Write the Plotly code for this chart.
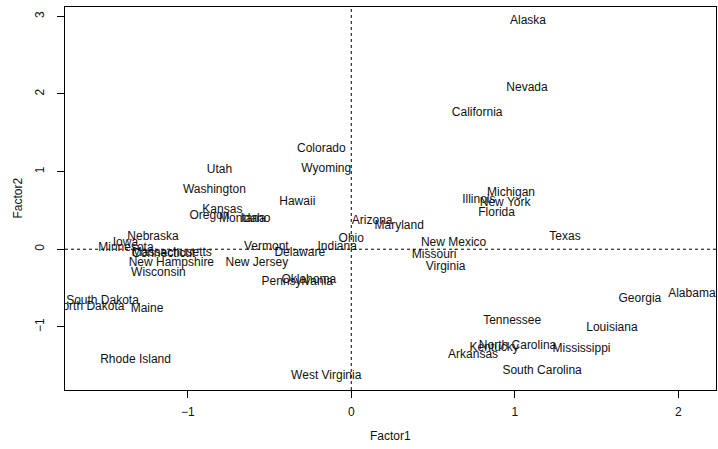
import plotly.graph_objects as go

# Factor scores per state (Factor1, Factor2)
states = [
    "Alaska", "Nevada", "California", "Colorado", "Wyoming", "Utah", "Washington",
    "Hawaii", "Kansas", "Oregon", "Montana", "Idaho", "Arizona", "Maryland",
    "Illinois", "Michigan", "New York", "Florida", "Texas", "New Mexico",
    "Missouri", "Virginia", "Georgia", "Alabama", "Tennessee", "Louisiana",
    "North Carolina", "Kentucky", "Mississippi", "Arkansas", "South Carolina",
    "Nebraska", "Iowa", "Minnesota", "Massachusetts", "Connecticut",
    "New Hampshire", "Wisconsin", "Vermont", "Delaware", "Indiana", "Ohio",
    "New Jersey", "Pennsylvania", "Oklahoma", "South Dakota", "North Dakota",
    "Maine", "Rhode Island", "West Virginia",
]
factor1 = [
    1.081, 1.075, 0.770, -0.183, -0.153, -0.806, -0.837,
    -0.330, -0.788, -0.867, -0.666, -0.586, 0.128, 0.293,
    0.780, 0.977, 0.941, 0.889, 1.307, 0.626,
    0.507, 0.577, 1.765, 2.083, 0.984, 1.594,
    1.017, 0.874, 1.408, 0.745, 1.167,
    -1.212, -1.381, -1.378, -1.097, -1.148,
    -1.100, -1.179, -0.519, -0.315, -0.086, 0.000,
    -0.577, -0.330, -0.260, -1.521, -1.603,
    -1.249, -1.319, -0.153,
]
factor2 = [
    2.938, 2.076, 1.754, 1.290, 1.033, 1.020, 0.763,
    0.609, 0.506, 0.429, 0.390, 0.390, 0.364, 0.299,
    0.634, 0.724, 0.596, 0.467, 0.158, 0.081,
    -0.073, -0.228, -0.640, -0.575, -0.925, -1.015,
    -1.245, -1.270, -1.283, -1.360, -1.566,
    0.158, 0.081, 0.017, -0.048, -0.060,
    -0.176, -0.305, 0.030, -0.048, 0.030, 0.132,
    -0.176, -0.420, -0.395, -0.666, -0.743,
    -0.769, -1.425, -1.631,
]

x_ticks = [-1, 0, 1, 2]
y_ticks = [-1, 0, 1, 2, 3]

# Axis ranges padded by 4% on each side
def padded(vals):
    lo, hi = min(vals), max(vals)
    d = (hi - lo) * 0.04
    return [lo - d, hi + d]

xr = padded(factor1)
yr = padded(factor2)

font_family = "Liberation Sans, Arial, Helvetica, sans-serif"

fig = go.Figure()
fig.add_trace(go.Scatter(
    x=factor1, y=factor2, text=states, mode="text",
    textposition="middle center",
    textfont=dict(family=font_family, size=12, color="#111111"),
    cliponaxis=True, hoverinfo="text", showlegend=False,
))

# Reference lines through the origin
fig.add_shape(type="line", xref="x", yref="paper", x0=0, x1=0, y0=0, y1=1,
              line=dict(color="black", width=1, dash="3px,3px"))
fig.add_shape(type="line", xref="paper", yref="y", x0=0, x1=1, y0=0, y1=0,
              line=dict(color="black", width=1, dash="3px,3px"))

axis_common = dict(
    showgrid=False, zeroline=False, showline=True, linecolor="black",
    linewidth=1, mirror=True, ticks="outside", ticklen=7, tickcolor="black",
    tickwidth=1, tickfont=dict(family=font_family, size=12, color="#111111"),
)

fig.update_xaxes(range=xr, tickvals=x_ticks, ticktext=["\u22121", "0", "1", "2"],
                 ticklabelstandoff=4, **axis_common)
fig.update_yaxes(range=yr, tickvals=y_ticks, ticktext=["\u22121", "0", "1", "2", "3"],
                 tickangle=-90, ticklabelstandoff=8, **axis_common)

fig.add_annotation(text="Factor1", xref="paper", yref="paper", x=0.5, y=0,
                   yshift=-46, yanchor="middle", showarrow=False,
                   font=dict(family=font_family, size=12, color="#111111"))
fig.add_annotation(text="Factor2", xref="paper", yref="paper", x=0, y=0.5,
                   xshift=-48, xanchor="center", yanchor="middle", textangle=-90,
                   showarrow=False,
                   font=dict(family=font_family, size=12, color="#111111"))

fig.update_layout(
    width=718, height=449,
    margin=dict(l=65, r=2, t=7, b=59),
    plot_bgcolor="white", paper_bgcolor="white",
)

fig.write_html("out.html")
